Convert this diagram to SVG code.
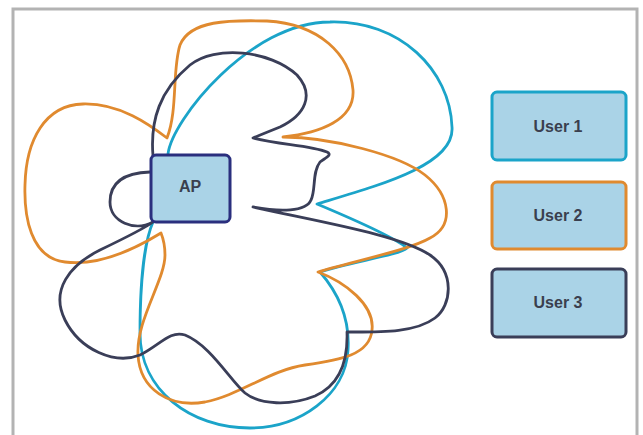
<svg xmlns="http://www.w3.org/2000/svg" width="643" height="435" viewBox="0 0 643 435">
<style>
.pat{fill:none;stroke-width:2.8;stroke-linejoin:round;stroke-linecap:round}
.u1{stroke:#1ba4c9}
.u2{stroke:#e08a2f}
.u3{stroke:#3a3e58}
.box{fill:#aad3e7;stroke-width:3}
.lbl{font-family:"Liberation Sans",Arial,sans-serif;font-size:16px;font-weight:bold;fill:#3a3f4e;text-anchor:middle;dominant-baseline:central}
</style>
<rect x="0" y="0" width="643" height="435" fill="#ffffff"/>
<rect x="13" y="9" width="624" height="440" fill="none" stroke="#b3b3b3" stroke-width="3"/>
<g id="connectors">
<path class="pat u1" d="M168,154 C172,120 250,22 330,22 C400,20 450,70 452,127 C455,165 380,185 317,204 C360,222 395,238 407,248 C400,255 350,262 320,272 C340,295 350,320 348,350 C346,395 300,428 250,428 C190,428 140,390 140,333 C140,280 145,240 153,222"/>
<path class="pat u2" d="M167,138 C178,110 172,70 180,45 C190,20 230,20 267,21 C320,24 350,55 353,90 C355,120 320,133 283,137 C330,137 400,155 425,175 C450,195 455,225 430,238 C410,250 350,262 318,272 C345,282 375,305 372,330 C370,355 340,360 305,365 C270,370 240,395 205,402 C170,408 140,390 138,355 C136,320 165,280 165,255 C165,245 163,238 161,233 C130,252 95,266 65,262 C30,258 24,215 25,185 C26,140 45,105 83,104 C120,103 150,125 167,138 Z"/>
<path class="pat u3" d="M153,156 C150,120 160,90 190,65 C215,45 270,50 297,75 C315,95 305,115 280,127 C265,133 258,136 253,138 C280,145 310,145 327,152 C333,155 325,158 320,162 C312,172 316,190 311,200 C306,212 280,212 253,207 C320,222 400,235 430,255 C455,272 452,305 435,318 C415,333 380,332 347,332 C348,360 340,385 315,396 C290,406 260,405 245,393 C230,380 210,345 185,335 C170,330 160,345 140,355 C115,365 80,350 65,320 C50,290 70,265 100,250 C125,238 145,228 153,222 C135,232 110,222 110,202 C110,185 120,173 150,172"/>
</g>
<g id="ap">
<rect class="box" x="151" y="155" width="79" height="67" rx="5" stroke="#2a2f7e"/>
<text class="lbl" x="190" y="186">AP</text>
</g>
<g id="user1">
<rect class="box" x="492" y="92" width="134" height="68" rx="5" stroke="#1ba4c9"/>
<text class="lbl" x="558" y="126">User 1</text>
</g>
<g id="user2">
<rect class="box" x="492" y="182" width="134" height="67" rx="5" stroke="#e08a2f"/>
<text class="lbl" x="558" y="215">User 2</text>
</g>
<g id="user3">
<rect class="box" x="492" y="269" width="134" height="68" rx="5" stroke="#3a3e58"/>
<text class="lbl" x="558" y="302">User 3</text>
</g>
</svg>
